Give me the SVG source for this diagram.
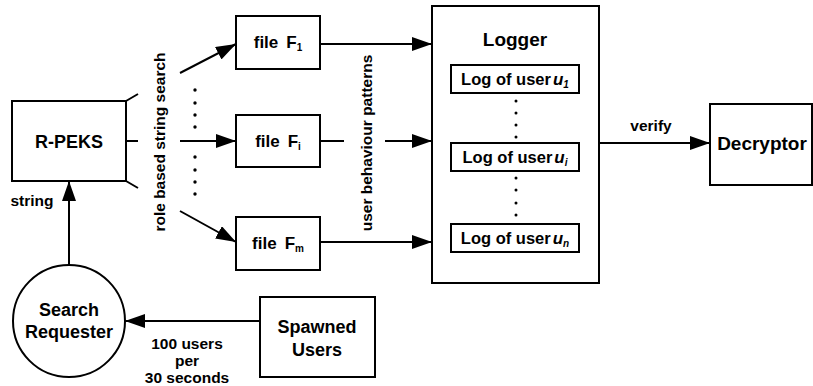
<svg xmlns="http://www.w3.org/2000/svg" width="813" height="386" viewBox="0 0 813 386">
<style>
.b{fill:#fff;stroke:#000;stroke-width:2}
.l{fill:none;stroke:#000;stroke-width:2}
text{font-family:"Liberation Sans",Arial,sans-serif;font-weight:bold;fill:#000}
.t{font-size:15.5px;text-anchor:middle}
.n{font-size:18px;text-anchor:middle}
.f{font-size:17px;text-anchor:middle}
.s{font-size:16.5px;text-anchor:middle}
.d{fill:#000}
</style>
<defs>
<marker id="ah" markerWidth="20" markerHeight="14" refX="20" refY="7" orient="auto" markerUnits="userSpaceOnUse" viewBox="0 0 20 14">
<path d="M0,0 L20,7 L0,14 z" fill="#000"/>
</marker>
</defs>
<g id="connectors">
<path class="l" d="M126,101 L138,94 M126,141 L138,141 M126,181 L138,188"/>
<path class="l" d="M180,141 L236,141" marker-end="url(#ah)"/>
<path class="l" d="M180,73 L236,44" marker-end="url(#ah)"/>
<path class="l" d="M180,211 L236,242" marker-end="url(#ah)"/>
<path class="l" d="M320,44 L432,44" marker-end="url(#ah)"/>
<path class="l" d="M320,141 L344,141"/>
<path class="l" d="M385,141 L432,141" marker-end="url(#ah)"/>
<path class="l" d="M320,242 L432,242" marker-end="url(#ah)"/>
<path class="l" d="M599,143 L710,143" marker-end="url(#ah)"/>
<path class="l" d="M69,265 L69,181" marker-end="url(#ah)"/>
<path class="l" d="M260,321 L125,321" marker-end="url(#ah)"/>
<g class="d">
<circle cx="195" cy="90" r="1.7"/><circle cx="195" cy="103" r="1.7"/><circle cx="195" cy="115" r="1.7"/><circle cx="195" cy="127" r="1.7"/>
<circle cx="195" cy="157" r="1.7"/><circle cx="195" cy="170" r="1.7"/><circle cx="195" cy="182" r="1.7"/><circle cx="195" cy="194" r="1.7"/>
</g>
<text class="t" transform="translate(165,142) rotate(-90)">role based string search</text>
<text class="t" transform="translate(372,143) rotate(-90)">user behaviour patterns</text>
<text class="t" x="651" y="131">verify</text>
<text class="t" x="32" y="206">string</text>
<text class="t" x="187" y="349">100 users</text>
<text class="t" x="187" y="366">per</text>
<text class="t" x="187" y="383">30 seconds</text>
</g>
<g id="rpeks">
<rect class="b" x="12" y="101" width="114" height="80"/>
<text class="n" x="69" y="148">R-PEKS</text>
</g>
<g id="file1">
<rect class="b" x="236" y="16" width="84" height="53"/>
<text class="f" x="278" y="48">file<tspan dx="8">F</tspan><tspan font-size="10" dy="3">1</tspan></text>
</g>
<g id="filei">
<rect class="b" x="236" y="115" width="84" height="52"/>
<text class="f" x="278" y="147">file<tspan dx="8">F</tspan><tspan font-size="10" dy="3">i</tspan></text>
</g>
<g id="filem">
<rect class="b" x="236" y="217" width="84" height="53"/>
<text class="f" x="278" y="249">file<tspan dx="8">F</tspan><tspan font-size="10" dy="3">m</tspan></text>
</g>
<g id="logger">
<rect class="b" x="432" y="6" width="167" height="277"/>
<text class="n" x="515" y="46" style="font-size:19px">Logger</text>
<rect class="b" x="451" y="65" width="128" height="28"/>
<text class="s" x="515" y="85">Log of user<tspan font-style="italic" font-size="17" dx="2">u</tspan><tspan font-style="italic" font-size="10" dy="3">1</tspan></text>
<rect class="b" x="451" y="143" width="128" height="28"/>
<text class="s" x="515" y="163">Log of user<tspan font-style="italic" font-size="17" dx="2">u</tspan><tspan font-style="italic" font-size="10" dy="3">i</tspan></text>
<rect class="b" x="451" y="224" width="128" height="28"/>
<text class="s" x="515" y="244">Log of user<tspan font-style="italic" font-size="17" dx="2">u</tspan><tspan font-style="italic" font-size="10" dy="3">n</tspan></text>
<g class="d">
<circle cx="516" cy="101" r="1.5"/><circle cx="516" cy="113" r="1.5"/><circle cx="516" cy="125" r="1.5"/><circle cx="516" cy="137" r="1.5"/>
<circle cx="516" cy="178" r="1.5"/><circle cx="516" cy="190" r="1.5"/><circle cx="516" cy="203" r="1.5"/><circle cx="516" cy="215" r="1.5"/>
</g>
</g>
<g id="decryptor">
<rect class="b" x="710" y="104" width="102" height="81"/>
<text class="n" x="762" y="150" style="font-size:19px">Decryptor</text>
</g>
<g id="requester">
<circle class="b" cx="69" cy="321" r="56"/>
<text class="n" x="69" y="316">Search</text>
<text class="n" x="69" y="338">Requester</text>
</g>
<g id="spawned">
<rect class="b" x="260" y="297" width="115" height="80"/>
<text class="n" x="317" y="333">Spawned</text>
<text class="n" x="317" y="356">Users</text>
</g>
</svg>
